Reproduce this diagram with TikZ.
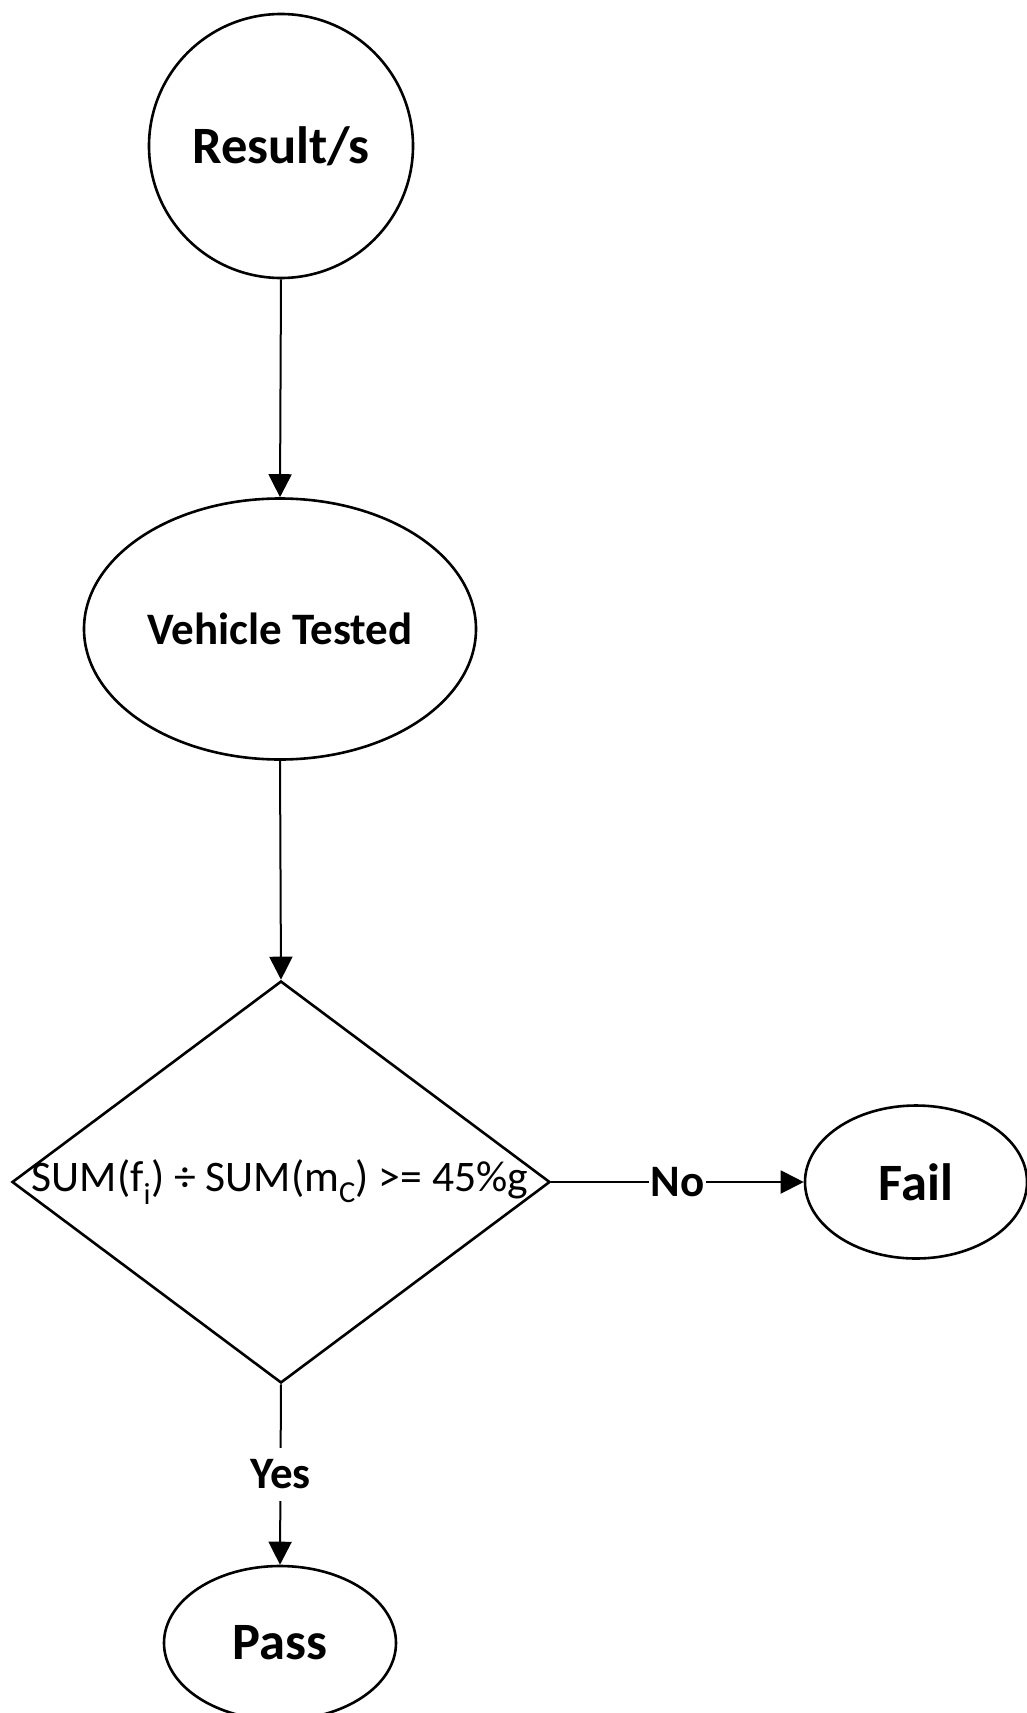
\documentclass[tikz,border=0pt]{standalone}
\usepackage{fontspec}
\setmainfont{Carlito}
\usetikzlibrary{shapes.geometric,arrows.meta}
\tikzset{
  shapeline/.style={draw=black, line width=2.6pt},
  roundbox/.style={shapeline, ellipse, inner sep=0pt},
  decision/.style={shapeline, diamond, inner sep=0pt},
  bigtext/.style={font=\fontsize{52.5}{62}\selectfont\bfseries},
  midtext/.style={font=\fontsize{45}{54}\selectfont\bfseries},
  plaintext/.style={font=\fontsize{43.6}{52}\selectfont},
  flow/.style={draw=black, line width=2pt, -{Triangle[length=23pt,width=23pt]}},
  edgelabel/.style={fill=white, inner xsep=2pt, inner ysep=12pt, font=\fontsize{45}{54}\selectfont\bfseries}
}
\begin{document}
\begin{tikzpicture}[x=1pt, y=-1pt]
  \useasboundingbox (0,0) rectangle (1027,1713);

  % start circle
  \node[roundbox, bigtext, minimum width=264pt, minimum height=264pt] (res) at (281,146) {Result/s};
  % tested vehicle
  \node[roundbox, midtext, minimum width=392pt, minimum height=261pt] (veh) at (280,629) {Vehicle Tested};
  % decision on braking ratio
  \node[decision, minimum width=538pt, minimum height=402pt] (dec) at (281,1182) {};
  \node[plaintext, inner sep=0pt] (dectext) at (280,1182) {SUM(f\textsubscript{i}) ÷ SUM(m\textsubscript{C}) >= 45\%g};
  % outcomes
  \node[roundbox, bigtext, minimum width=222pt, minimum height=153pt] (fail) at (916,1182) {Fail};
  \node[roundbox, bigtext, minimum width=232pt, minimum height=154pt] (pass) at (280,1643) {Pass};

  % connectors
  \draw[flow] (res.south) -- (veh.north);
  \draw[flow] (veh.south) -- (dec.north);
  \draw[flow] (dec.east) -- node[edgelabel] {No} (fail.west);
  \draw[flow] (dec.south) -- node[edgelabel] {Yes} (pass.north);
\end{tikzpicture}
\end{document}
